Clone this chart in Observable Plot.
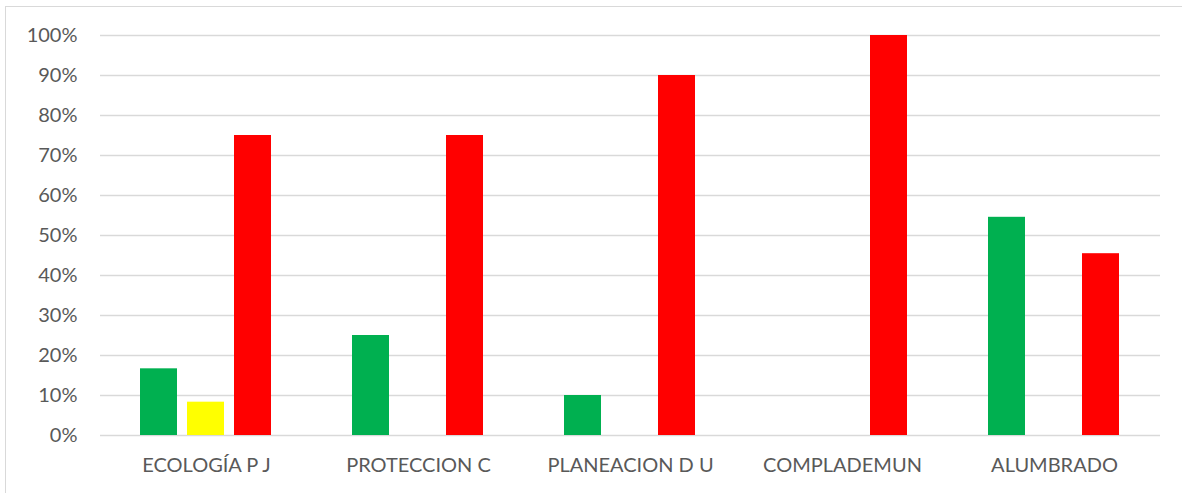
<!DOCTYPE html>
<html>
<head>
<meta charset="utf-8">
<script src="https://cdn.jsdelivr.net/npm/d3@7"></script>
<script src="https://cdn.jsdelivr.net/npm/@observablehq/plot@0.6"></script>
<style>
  html, body { margin: 0; padding: 0; background: #fff; }
  #wrap { position: relative; width: 1182px; height: 493px; overflow: hidden; }
  #frame { position: absolute; left: 5px; top: 6px; width: 1200px; height: 600px; border-left: 1px solid #d9d9d9; border-top: 1px solid #d9d9d9; box-sizing: border-box; pointer-events: none; }
  #chart { position: absolute; left: 0; top: 0; }
</style>
</head>
<body>
<div id="wrap"><div id="chart"></div><div id="frame"></div></div>
<script>
const categories = ["ECOLOGÍA P J", "PROTECCION C", "PLANEACION D U", "COMPLADEMUN", "ALUMBRADO"];
const seriesNames = ["Verde", "Amarillo", "Rojo"];
const seriesColors = ["#00B050", "#FFFF00", "#FF0000"];
const verde    = [0.1667, 0.25,   0.10, 0,    0.5455];
const amarillo = [0.0833, 0,      0,    0,    0];
const rojo     = [0.75,   0.75,   0.90, 1.00, 0.4545];
const yTicks = [0, 0.1, 0.2, 0.3, 0.4, 0.5, 0.6, 0.7, 0.8, 0.9, 1.0];

const seriesValues = [verde, amarillo, rojo];
const data = [];
categories.forEach((c, i) => {
  seriesNames.forEach((s, j) => {
    data.push({cat: c, serie: s, value: seriesValues[j][i]});
  });
});

const chart = Plot.plot({
  width: 1182,
  height: 493,
  marginLeft: 99,
  marginRight: 21,
  marginTop: 35,
  marginBottom: 58,
  style: {fontFamily: "Lato, 'Open Sans', sans-serif", fontSize: "20px", color: "#595959", background: "transparent"},
  fx: {domain: categories, padding: 0, label: null},
  x: {domain: seriesNames, paddingInner: 0.21, paddingOuter: 0.84, axis: null},
  y: {domain: [0, 1], label: null},
  color: {domain: seriesNames, range: seriesColors},
  marks: [
    Plot.gridY(yTicks, {stroke: "#d9d9d9", strokeOpacity: 1, strokeWidth: 1.3}),
    Plot.axisY(yTicks, {tickSize: 0, tickPadding: 23, tickFormat: d => Math.round(d * 100) + "%", fontSize: 20, fill: "#595959", label: null}),
    Plot.axisFx({anchor: "bottom", tickSize: 0, tickPadding: 22, fontSize: 20, fill: "#595959", label: null}),
    Plot.barY(data.filter(d => d.value > 0), {fx: "cat", x: "serie", y: "value", fill: "serie"})
  ]
});
document.getElementById("chart").appendChild(chart);
</script>
</body>
</html>
